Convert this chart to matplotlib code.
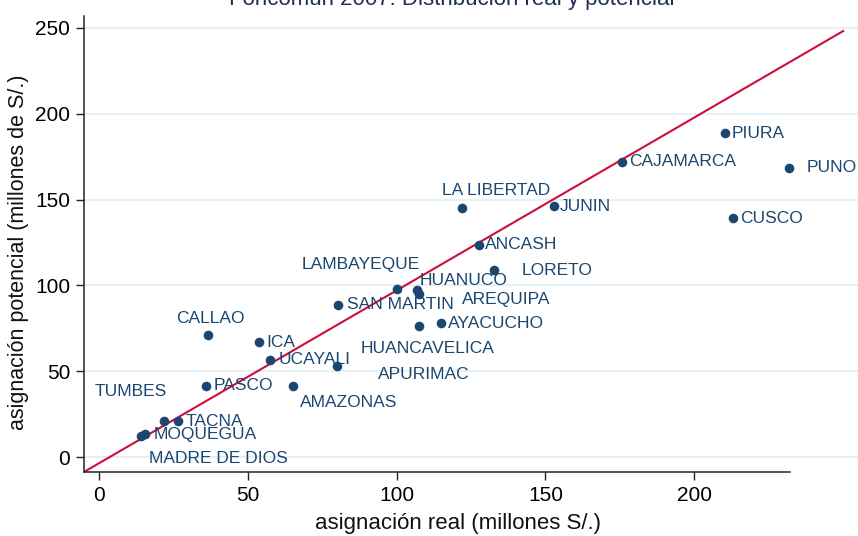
import matplotlib
matplotlib.use("Agg")
import matplotlib.pyplot as plt

# data (millones de S/.)
departments = [
    "PIURA", "CAJAMARCA", "PUNO", "CUSCO", "JUNIN", "LA LIBERTAD",
    "ANCASH", "LORETO", "LAMBAYEQUE", "HUANUCO", "AREQUIPA", "SAN MARTIN",
    "AYACUCHO", "HUANCAVELICA", "APURIMAC", "UCAYALI", "ICA", "CALLAO",
    "PASCO", "AMAZONAS", "TUMBES", "TACNA", "MOQUEGUA", "MADRE DE DIOS",
]
real = [210.5, 175.9, 231.8, 213.1, 152.9, 122.0,
        127.6, 132.8, 99.9, 106.8, 107.3, 80.1,
        114.8, 107.3, 79.9, 57.5, 53.8, 36.6,
        35.9, 65.0, 21.8, 26.3, 15.2, 14.1]
potencial = [188.6, 172.1, 168.4, 139.1, 146.1, 144.8,
             123.7, 108.9, 97.7, 97.3, 94.9, 88.6,
             78.1, 76.6, 53.1, 56.4, 66.9, 70.9,
             41.5, 41.5, 21.1, 21.1, 13.7, 12.2]

# reference line (fitted over the plotted range)
line_range = [-5.2, 250.1]
line_slope = 1.005
line_intercept = -3.3

x_ticks = [0, 50, 100, 150, 200]
y_ticks = [0, 50, 100, 150, 200, 250]

# label placement: (dx, dy) in pixels, ha
label_pos = {
    "PIURA": (6, 0, "left"), "CAJAMARCA": (7, 0, "left"),
    "PUNO": (18, 0, "left"), "CUSCO": (7, 0, "left"),
    "JUNIN": (6, 0, "left"), "LA LIBERTAD": (34, 18, "center"),
    "ANCASH": (6, 0, "left"), "LORETO": (27, 0, "left"),
    "LAMBAYEQUE": (23, 25, "right"), "HUANUCO": (3, 10, "left"),
    "AREQUIPA": (43, -5, "left"), "SAN MARTIN": (9, 1, "left"),
    "AYACUCHO": (7, 0, "left"), "HUANCAVELICA": (9, -23, "center"),
    "APURIMAC": (41, -8, "left"), "UCAYALI": (8, 1, "left"),
    "ICA": (7, 0, "left"), "CALLAO": (2, 17, "center"),
    "PASCO": (7, 0, "left"), "AMAZONAS": (7, -17, "left"),
    "TUMBES": (3, 30, "right"), "TACNA": (8, 0, "left"),
    "MOQUEGUA": (9, -1, "left"), "MADRE DE DIOS": (8, -22, "left"),
}

navy = "#1a476f"
red = "#cc0f3a"
grid_col = "#e9f0f3"

plt.rcParams["font.family"] = ["Liberation Sans", "DejaVu Sans"]

fig = plt.figure(figsize=(8.58, 5.36), dpi=100, facecolor="white")
ax = fig.add_axes([84 / 858, 1 - 472 / 536, 1 - 84 / 858, (472 - 15.7) / 536])

ax.set_xlim(-5.2, 255.1)
ax.set_ylim(-8.55, 257)

for yt in y_ticks:
    ax.axhline(yt, color=grid_col, linewidth=1.6, zorder=0)

ax.scatter(real, potencial, s=48, color=navy, zorder=3, linewidths=0)

for name, xv, yv in zip(departments, real, potencial):
    dx, dy, ha = label_pos[name]
    ax.annotate(name, (xv, yv), xytext=(dx, dy), textcoords="offset pixels",
                ha=ha, va="center", fontsize=12.5, color=navy, zorder=4)

lx = line_range
ly = [line_slope * v + line_intercept for v in lx]
ax.plot(lx, ly, color=red, linewidth=1.5, zorder=2)

ax.set_xticks(x_ticks)
ax.set_yticks(y_ticks)
ax.tick_params(axis="both", labelsize=15, length=6, width=1, color="#222222",
               pad=4)
for sp in ["top", "right"]:
    ax.spines[sp].set_visible(False)
for sp in ["left", "bottom"]:
    ax.spines[sp].set_linewidth(1.1)
    ax.spines[sp].set_color("#222222")
ax.spines["bottom"].set_bounds(-5.2, 232.3)

fig.text(451.5 / 858, 1 - 5 / 536, "Foncomun 2007: Distribución real y potencial",
         ha="center", va="baseline", fontsize=16, color="#1f2f4f")
fig.text(458 / 858, 1 - 524 / 536, "asignación real (millones S/.)",
         ha="center", va="center", fontsize=16, color="#111111")
fig.text(19 / 858, 1 - 252 / 536, "asignación potencial (millones de S/.)",
         ha="center", va="center", rotation=90, fontsize=15.5, color="#111111")

fig.savefig("out.png", dpi=100, facecolor="white")
